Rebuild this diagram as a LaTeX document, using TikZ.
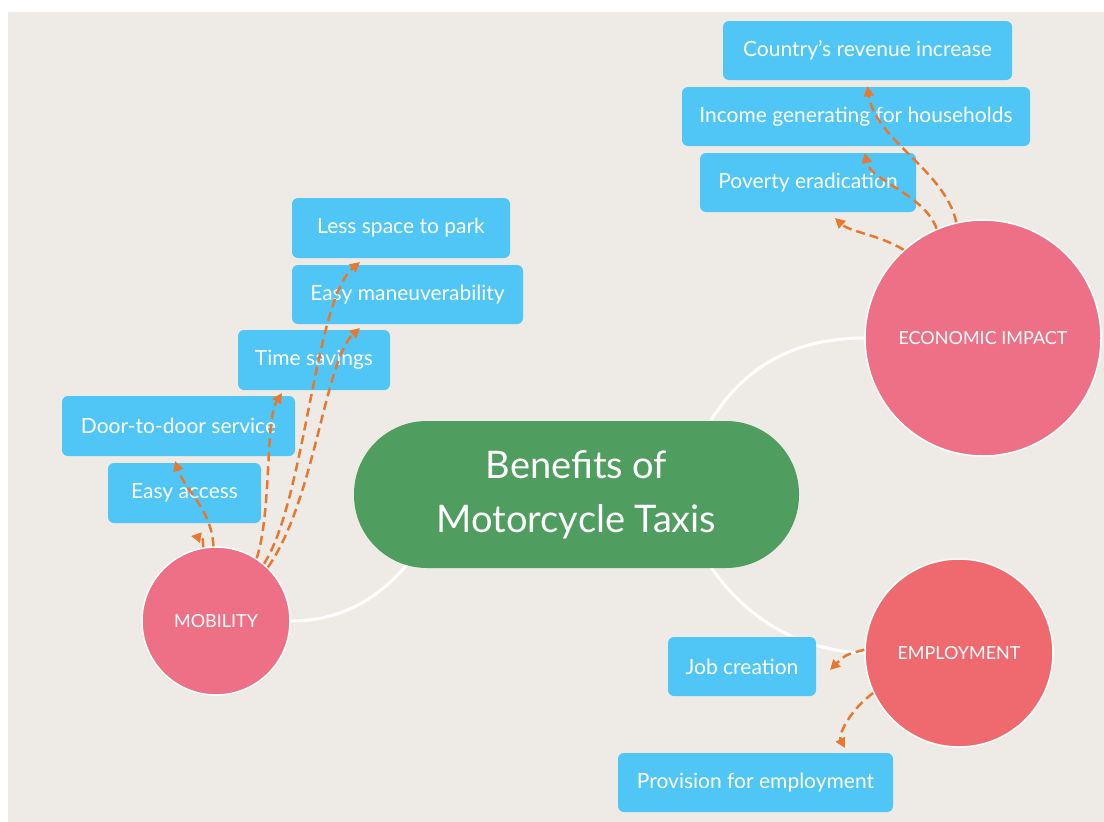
\documentclass[tikz,border=0pt]{standalone}
\usepackage{fontspec}
\setmainfont{Lato}
\usepackage{xcolor}
\usepackage{tikz}
\usetikzlibrary{arrows.meta,backgrounds}

\definecolor{paper}{HTML}{EEEAE5}
\definecolor{leaf}{HTML}{4F9D5F}
\definecolor{rose}{HTML}{EE7087}
\definecolor{coral}{HTML}{EF6A6F}
\definecolor{sky}{HTML}{4FC6F6}
\definecolor{tangerine}{HTML}{E8782F}

\tikzset{
  idea/.style={fill=sky, rounded corners=6pt, text=white, inner sep=0pt,
    font=\fontsize{21}{24}\selectfont},
  theme/.style={circle, draw=white, line width=1.5pt, text=white, inner sep=0pt,
    font=\fontsize{18}{20}\selectfont},
  link/.style={draw=tangerine, line width=2.5pt, dash pattern=on 9pt off 5pt,
    -{Triangle[length=10pt,width=10pt]}},
  branch/.style={draw=white, line width=3pt},
}

\begin{document}
\begin{tikzpicture}[x=1pt, y=-1pt]
  \useasboundingbox (0,0) rectangle (1104,822);

  \node[fill=leaf, rounded corners=73pt, minimum width=445pt, minimum height=147pt,
    text=white, align=center, font=\fontsize{38}{54}\selectfont]
    (hub) at (576.5,494.5) {Benefits of\\Motorcycle Taxis};

  \node[theme, fill=rose, minimum size=148pt] (mob) at (216,621) {MOBILITY};
  \node[theme, fill=rose, minimum size=236pt] (econ) at (983,338) {ECONOMIC IMPACT};
  \node[theme, fill=coral, minimum size=188pt] (work) at (959,653) {EMPLOYMENT};

  \node[idea, minimum width=289pt, minimum height=59pt] (revenue) at (867.5,50.5) {Country's revenue increase};
  \node[idea, minimum width=348pt, minimum height=59pt] (income) at (856,116.5) {Income generating for households};
  \node[idea, minimum width=216pt, minimum height=59pt] (poverty) at (808,182.5) {Poverty eradication};

  \node[idea, minimum width=218pt, minimum height=60pt] (park) at (401,228) {Less space to park};
  \node[idea, minimum width=231pt, minimum height=59pt] (maneuver) at (407.5,294.5) {Easy maneuverability};
  \node[idea, minimum width=152pt, minimum height=60pt] (saving) at (314,360) {Time savings};
  \node[idea, minimum width=233pt, minimum height=60pt] (door) at (178.5,426) {Door-to-door service};
  \node[idea, minimum width=153pt, minimum height=60pt] (access) at (184.5,493) {Easy access};

  \node[idea, minimum width=148pt, minimum height=59pt] (job) at (742,666.5) {Job creation};
  \node[idea, minimum width=275pt, minimum height=59pt] (provision) at (755.5,782.5) {Provision for employment};

  \coordinate (hubsw) at (420,548);
  \coordinate (hubne) at (700,440);
  \coordinate (hubse) at (700,550);

  \begin{pgfonlayer}{background}
    \fill[white] (0,0) rectangle (1104,822);
    \fill[paper] (8,12) rectangle (1104,822);
    \draw[branch] (mob.east) .. controls (350,621) and (390,590) .. (hubsw);
    \draw[branch] (econ.west) .. controls (780,338) and (730,380) .. (hubne);
    \draw[branch] (work.west) .. controls (790,650) and (735,610) .. (hubse);
  \end{pgfonlayer}

  \draw[link] (econ.103) .. controls (945,170) and (875,140) .. ([yshift=-6pt]revenue.south);
  \draw[link] (econ.113) .. controls (925,195) and (870,180) .. (865,153);
  \draw[link] (econ.132) .. controls (880,235) and (850,232) .. (835,218);

  \draw[link] (mob.92) .. controls (212,510) and (185,490) .. (175,461);
  \draw[link] (mob.100) .. controls (203,538) .. (191,536);
  \draw[link] (mob.57) .. controls (272,510) and (265,420) .. (282,393);
  \draw[link] (mob.46) .. controls (315,500) and (325,360) .. (360,328);
  \draw[link] (mob.50) .. controls (305,500) and (315,300) .. (360,262);

  \draw[link] (work.178) .. controls (845,655) .. (830,670);
  \draw[link] (work.205) .. controls (850,710) and (838,735) .. (845,748);
\end{tikzpicture}
\end{document}
